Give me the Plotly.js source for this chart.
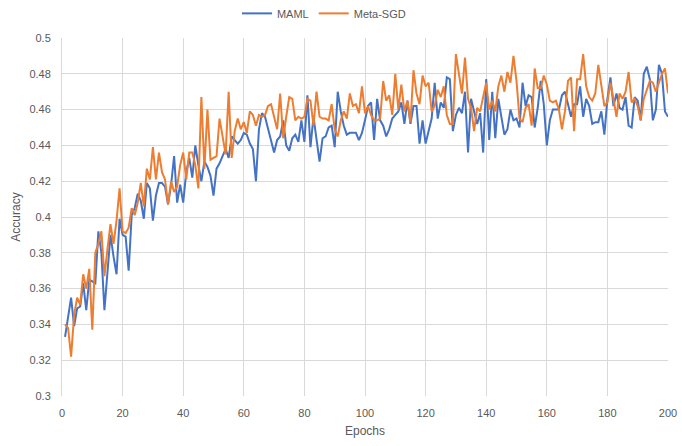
<!DOCTYPE html>
<html>
<head>
<meta charset="utf-8">
<script src="https://cdn.plot.ly/plotly-3.0.1.min.js"></script>
<style>
  html, body { margin: 0; padding: 0; background: #fff; }
  #chart { width: 682px; height: 446px; }
</style>
</head>
<body>
<div id="chart"></div>
<script>
// epochs 1..200
let epochs = [];
for (let i = 1; i <= 200; i++) epochs.push(i);

let maml = [
  0.333, 0.345, 0.355, 0.339, 0.349, 0.350, 0.363, 0.348, 0.365, 0.364,
  0.363, 0.392, 0.380, 0.348, 0.371, 0.390, 0.378, 0.368, 0.399, 0.390,
  0.389, 0.370, 0.401, 0.405, 0.413, 0.409, 0.399, 0.419, 0.416, 0.398,
  0.412, 0.419, 0.419, 0.417, 0.407, 0.418, 0.434, 0.408, 0.418, 0.408,
  0.425, 0.433, 0.422, 0.440, 0.429, 0.420, 0.431, 0.428, 0.423, 0.412,
  0.427, 0.430, 0.434, 0.438, 0.433, 0.445, 0.443, 0.441, 0.443, 0.447,
  0.446, 0.441, 0.438, 0.420, 0.449, 0.458, 0.456, 0.449, 0.443, 0.436,
  0.443, 0.445, 0.454, 0.440, 0.437, 0.444, 0.446, 0.442, 0.454, 0.442,
  0.468, 0.439, 0.456, 0.444, 0.431, 0.444, 0.445, 0.450, 0.451, 0.439,
  0.470, 0.459, 0.451, 0.446, 0.447, 0.447, 0.447, 0.443, 0.447, 0.454,
  0.462, 0.464, 0.443, 0.466, 0.454, 0.451, 0.445, 0.449, 0.455, 0.457,
  0.459, 0.464, 0.452, 0.465, 0.452, 0.462, 0.462, 0.441, 0.454, 0.441,
  0.449, 0.455, 0.475, 0.455, 0.464, 0.461, 0.478, 0.477, 0.448, 0.457,
  0.461, 0.458, 0.470, 0.436, 0.466, 0.459, 0.452, 0.458, 0.436, 0.477,
  0.443, 0.470, 0.444, 0.466, 0.456, 0.446, 0.449, 0.460, 0.454, 0.455,
  0.450, 0.475, 0.462, 0.468, 0.467, 0.450, 0.461, 0.476, 0.463, 0.440,
  0.454, 0.460, 0.460, 0.460, 0.468, 0.470, 0.463, 0.456, 0.463, 0.463,
  0.473, 0.456, 0.466, 0.462, 0.452, 0.453, 0.453, 0.459, 0.446, 0.466,
  0.478, 0.462, 0.469, 0.461, 0.460, 0.467, 0.451, 0.450, 0.467, 0.465,
  0.454, 0.480, 0.484, 0.477, 0.454, 0.460, 0.485, 0.480, 0.459, 0.456
];

let metaSgd = [
  0.340, 0.338, 0.322, 0.345, 0.355, 0.351, 0.368, 0.360, 0.371, 0.337,
  0.380, 0.385, 0.392, 0.367, 0.382, 0.396, 0.385, 0.398, 0.416, 0.392,
  0.391, 0.394, 0.405, 0.401, 0.408, 0.419, 0.406, 0.427, 0.421, 0.439,
  0.421, 0.436, 0.425, 0.421, 0.407, 0.420, 0.414, 0.417, 0.429, 0.436,
  0.421, 0.436, 0.436, 0.429, 0.416, 0.467, 0.427, 0.460, 0.432, 0.433,
  0.434, 0.455, 0.446, 0.435, 0.470, 0.433, 0.448, 0.455, 0.449, 0.453,
  0.447, 0.459, 0.457, 0.451, 0.457, 0.456, 0.457, 0.462, 0.463, 0.456,
  0.449, 0.469, 0.444, 0.456, 0.467, 0.466, 0.454, 0.456, 0.455, 0.456,
  0.466, 0.465, 0.451, 0.470, 0.456, 0.455, 0.455, 0.454, 0.463, 0.449,
  0.445, 0.454, 0.459, 0.455, 0.469, 0.462, 0.463, 0.458, 0.473, 0.458,
  0.462, 0.457, 0.454, 0.454, 0.455, 0.476, 0.465, 0.468, 0.457, 0.480,
  0.460, 0.474, 0.459, 0.465, 0.453, 0.482, 0.469, 0.463, 0.479, 0.473,
  0.475, 0.459, 0.462, 0.471, 0.467, 0.473, 0.457, 0.452, 0.452, 0.491,
  0.479, 0.469, 0.489, 0.466, 0.461, 0.448, 0.461, 0.459, 0.467, 0.475,
  0.460, 0.465, 0.459, 0.473, 0.479, 0.470, 0.481, 0.475, 0.490, 0.476,
  0.455, 0.453, 0.461, 0.463, 0.451, 0.483, 0.472, 0.472, 0.479, 0.474,
  0.465, 0.464, 0.465, 0.460, 0.449, 0.459, 0.476, 0.478, 0.448, 0.477,
  0.477, 0.491, 0.473, 0.467, 0.465, 0.469, 0.485, 0.474, 0.462, 0.464,
  0.475, 0.466, 0.456, 0.469, 0.466, 0.470, 0.481, 0.464, 0.466, 0.462,
  0.454, 0.466, 0.471, 0.476, 0.475, 0.470, 0.475, 0.480, 0.483, 0.469
];

let xTickVals = [0, 20, 40, 60, 80, 100, 120, 140, 160, 180, 200];
let yTickVals = [0.3, 0.32, 0.34, 0.36, 0.38, 0.4, 0.42, 0.44, 0.46, 0.48, 0.5];
let yTickText = ["0.3", "0.32", "0.34", "0.36", "0.38", "0.4", "0.42", "0.44", "0.46", "0.48", "0.5"];

let traces = [
  {
    x: epochs,
    y: maml,
    name: "MAML",
    type: "scatter",
    mode: "lines",
    line: { color: "#4472C4", width: 2 },
  },
  {
    x: epochs,
    y: metaSgd,
    name: "Meta-SGD",
    type: "scatter",
    mode: "lines",
    line: { color: "#ED7D31", width: 2 },
  },
];

let axisFont = { family: "Liberation Sans, Arial, sans-serif", size: 11, color: "#595959" };

let layout = {
  width: 682,
  height: 446,
  margin: { l: 62, r: 14, t: 38, b: 50 },
  paper_bgcolor: "#ffffff",
  plot_bgcolor: "#ffffff",
  font: axisFont,
  showlegend: true,
  legend: {
    orientation: "h",
    xref: "container",
    yref: "container",
    x: 0.475,
    xanchor: "center",
    y: 0.97,
    yanchor: "middle",
    itemwidth: 30,
    font: { family: "Liberation Sans, Arial, sans-serif", size: 11, color: "#595959" },
  },
  xaxis: {
    range: [0, 200],
    tickvals: xTickVals,
    showgrid: true,
    gridcolor: "#d9d9d9",
    zeroline: false,
    showline: false,
    ticks: "outside",
    ticklen: 7,
    tickcolor: "rgba(0,0,0,0)",
    tickfont: axisFont,
    title: { text: "Epochs", font: { size: 12, color: "#595959" }, standoff: 8 },
  },
  yaxis: {
    range: [0.3, 0.5],
    tickvals: yTickVals,
    ticktext: yTickText,
    showgrid: true,
    gridcolor: "#d9d9d9",
    zeroline: false,
    showline: true,
    linecolor: "#d9d9d9",
    ticks: "outside",
    ticklen: 8,
    tickcolor: "rgba(0,0,0,0)",
    tickfont: axisFont,
    title: { text: "Accuracy", font: { size: 12, color: "#595959" }, standoff: 6 },
  },
};

Plotly.newPlot("chart", traces, layout, {
  displayModeBar: false,
  responsive: false,
});
</script>
</body>
</html>
